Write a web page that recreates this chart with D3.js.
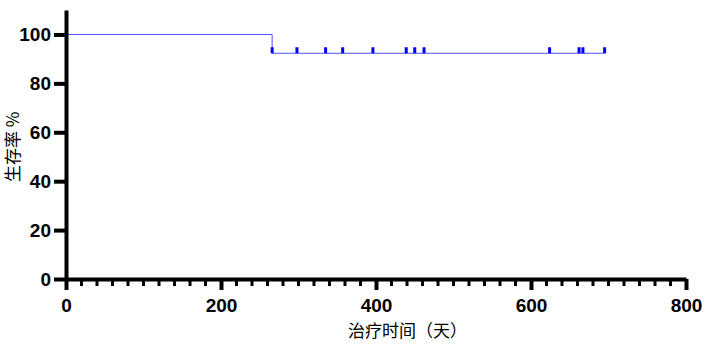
<!DOCTYPE html>
<html>
<head>
<meta charset="utf-8">
<script src="https://cdn.jsdelivr.net/npm/d3@7"></script>
<style>
  body { margin: 0; background: #fff; }
  .tick text { font-family: 'Liberation Sans', Arial, sans-serif; font-weight: bold; font-size: 19px; fill: #000; }
</style>
</head>
<body>
<div id="chart"></div>
<script>
// survival data (days), 1 = event, 0 = censored
var times = [266, 266, 298, 335, 357, 396, 439, 450, 462, 624, 662, 667, 695]
var events = [1, 0, 0, 0, 0, 0, 0, 0, 0, 0, 0, 0, 0]
var xTicks = [0, 200, 400, 600, 800]
var yTicks = [0, 20, 40, 60, 80, 100]

var margin = { top: 10, left: 66, right: 25, bottom: 65 }
var width = 711 - margin.left - margin.right
var height = 344 - margin.top - margin.bottom

var svg = d3
  .select('#chart')
  .append('svg')
  .attr('width', 711)
  .attr('height', 344)
  .append('g')
  .attr('transform', 'translate(' + margin.left + ',' + margin.top + ')')

var x = d3.scaleLinear().domain([0, 800]).range([0, 620])
var y = d3.scaleLinear().domain([0, 110]).range([height, 0])

// kaplan-meier steps
var n = times.length
var s = 100
var steps = [{ t: 0, s: 100 }]
var censored = []
times.forEach(function(t, i) {
  var atRisk = n - i
  if (events[i] === 1) {
    steps.push({ t: t, s: s })
    s = s * (atRisk - 1) / atRisk
    steps.push({ t: t, s: s })
  } else {
    censored.push({ t: t, s: s })
  }
})
steps.push({ t: times[n - 1], s: s })

var line = d3.line().x(d => x(d.t)).y(d => y(d.s))

svg.append('path')
  .datum(steps)
  .attr('d', line)
  .attr('fill', 'none')
  .attr('stroke', '#5050ff')
  .attr('stroke-width', 1)

svg.selectAll('.cens')
  .data(censored)
  .enter()
  .append('rect')
  .attr('x', d => x(d.t) - 1.5)
  .attr('y', d => y(d.s) - 6)
  .attr('width', 3)
  .attr('height', 6)
  .attr('fill', '#0000ff')

// minor x ticks
svg.selectAll('.minor')
  .data(d3.range(20, 800, 20).filter(d => d % 200 !== 0))
  .enter()
  .append('line')
  .attr('x1', d => x(d))
  .attr('x2', d => x(d))
  .attr('y1', height)
  .attr('y2', height + 7)
  .attr('stroke', '#000')
  .attr('stroke-width', 3)

var xAxis = svg.append('g')
  .attr('transform', 'translate(0,' + height + ')')
  .call(d3.axisBottom(x).tickValues(xTicks).tickSize(11).tickPadding(9).tickSizeOuter(0))
xAxis.select('.domain').attr('stroke-width', 4).attr('stroke', '#000')
xAxis.selectAll('.tick line').attr('stroke-width', 4)

var yAxis = svg.append('g')
  .call(d3.axisLeft(y).tickValues(yTicks).tickSize(12).tickPadding(3).tickSizeOuter(0))
yAxis.select('.domain').attr('stroke-width', 4).attr('stroke', '#000')
yAxis.selectAll('.tick line').attr('stroke-width', 4)

svg.append('text')
  .attr('x', 282)
  .attr('y', height + 58)
  .attr('font-family', "'Noto Sans CJK SC', sans-serif")
  .attr('font-size', 17)
  .text('治疗时间（天）')

svg.append('text')
  .attr('transform', 'translate(-47,' + (y(50) - 10) + ') rotate(-90)')
  .attr('text-anchor', 'middle')
  .attr('font-family', "'Noto Sans CJK SC', sans-serif")
  .attr('font-size', 17)
  .text('生存率 %')
</script>
</body>
</html>
